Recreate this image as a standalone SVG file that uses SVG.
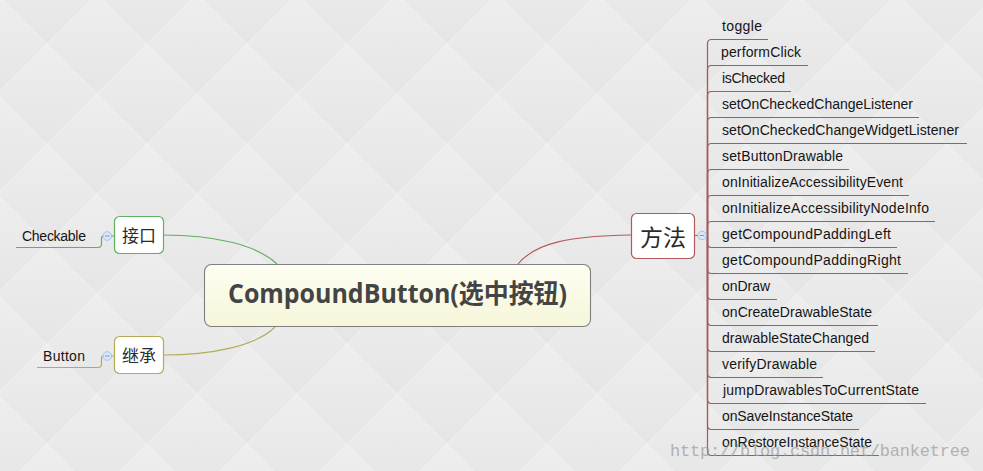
<svg xmlns="http://www.w3.org/2000/svg" width="983" height="471" viewBox="0 0 983 471">
<style>
.item{font-family:"Liberation Sans","Noto Sans CJK SC",sans-serif;font-size:14px;fill:#151515}
.ul{fill:none;stroke:#a65a5a;stroke-width:1.2}
.cjk{font-family:"Noto Sans CJK SC","Noto Sans",sans-serif;fill:#2a2a2a;text-anchor:middle}
.node{fill:#ffffff;stroke-width:1.2}
.tog circle{fill:#d8e6fb;stroke:#9db6e4;stroke-width:0.8}
.tog line{stroke:#7b98d0;stroke-width:1}
</style>
<defs>
<linearGradient id="g1" gradientUnits="userSpaceOnUse" x1="0" y1="0" x2="0" y2="100"><stop offset="0" stop-color="#eeeeee"/><stop offset="1" stop-color="#e5e5e5"/></linearGradient>
<linearGradient id="g2" gradientUnits="userSpaceOnUse" x1="0" y1="-50" x2="0" y2="50"><stop offset="0" stop-color="#eeeeee"/><stop offset="1" stop-color="#e5e5e5"/></linearGradient>
<linearGradient id="g3" gradientUnits="userSpaceOnUse" x1="0" y1="50" x2="0" y2="150"><stop offset="0" stop-color="#eeeeee"/><stop offset="1" stop-color="#e5e5e5"/></linearGradient>
<pattern id="bg" patternUnits="userSpaceOnUse" x="-3.3" y="-5.7" width="100" height="100">
<rect width="100" height="100" fill="url(#g1)"/>
<polygon points="0,0 100,0 50,50" fill="url(#g2)"/>
<polygon points="0,100 100,100 50,50" fill="url(#g3)"/>
<path d="M0,0 L100,100 M100,0 L0,100" stroke="#f7f7f7" stroke-width="1" opacity="0.7"/>
</pattern>
<linearGradient id="cfill" x1="0" y1="0" x2="0" y2="1"><stop offset="0" stop-color="#fefef2"/><stop offset="1" stop-color="#f6f6da"/></linearGradient>
</defs>
<rect width="983" height="471" fill="url(#bg)"/>

<g id="connectors">
<path d="M163,235 C212,235 256,244 277,264" fill="none" stroke="#5fb05f" stroke-width="1.1"/>
<path d="M163,355 C212,355 256,346 275,327" fill="none" stroke="#b2ab58" stroke-width="1.1"/>
<path d="M518,264 C536,242 572,236 631,235" fill="none" stroke="#b05a5a" stroke-width="1.1"/>
<path d="M16,247.5 H98 Q101.5,247.5 101.5,244 V238.5 Q101.5,236 103,236" fill="none" stroke="#5fb05f" stroke-width="1.2"/>
<path d="M37,367.5 H98 Q101.5,367.5 101.5,364 V358.5 Q101.5,356 103,356" fill="none" stroke="#b2ab58" stroke-width="1.2"/>
<line x1="111.5" y1="236" x2="114" y2="236" stroke="#5fb05f"/>
<line x1="111.5" y1="356" x2="114" y2="356" stroke="#b2ab58"/>
<line x1="695" y1="235.5" x2="698" y2="235.5" stroke="#b05a5a"/>
<path class="ul" d="M707.5,235.5 V43.5 Q707.5,39.5 711.5,39.5 H768"/>
<path class="ul" d="M707.5,235.5 V69.5 Q707.5,65.5 711.5,65.5 H808"/>
<path class="ul" d="M707.5,235.5 V95.5 Q707.5,91.5 711.5,91.5 H791"/>
<path class="ul" d="M707.5,235.5 V121.5 Q707.5,117.5 711.5,117.5 H919"/>
<path class="ul" d="M707.5,235.5 V147.5 Q707.5,143.5 711.5,143.5 H967"/>
<path class="ul" d="M707.5,235.5 V173.5 Q707.5,169.5 711.5,169.5 H849"/>
<path class="ul" d="M707.5,235.5 V199.5 Q707.5,195.5 711.5,195.5 H909"/>
<path class="ul" d="M707.5,235.5 V225.5 Q707.5,221.5 711.5,221.5 H935"/>
<path class="ul" d="M707.5,235.5 V243.5 Q707.5,247.5 711.5,247.5 H897"/>
<path class="ul" d="M707.5,235.5 V269.5 Q707.5,273.5 711.5,273.5 H908"/>
<path class="ul" d="M707.5,235.5 V295.5 Q707.5,299.5 711.5,299.5 H777"/>
<path class="ul" d="M707.5,235.5 V321.5 Q707.5,325.5 711.5,325.5 H878"/>
<path class="ul" d="M707.5,235.5 V347.5 Q707.5,351.5 711.5,351.5 H875"/>
<path class="ul" d="M707.5,235.5 V373.5 Q707.5,377.5 711.5,377.5 H823"/>
<path class="ul" d="M707.5,235.5 V399.5 Q707.5,403.5 711.5,403.5 H926"/>
<path class="ul" d="M707.5,235.5 V425.5 Q707.5,429.5 711.5,429.5 H859"/>
<path class="ul" d="M707.5,235.5 V451.5 Q707.5,455.5 711.5,455.5 H879"/>
</g>

<g id="central">
<rect x="204.5" y="264.5" width="386" height="62" rx="7" fill="url(#cfill)" stroke="#7f7f7f" stroke-width="1.1"/>
<text x="228" y="303" textLength="339" lengthAdjust="spacingAndGlyphs" font-family="'Open Sans','Noto Sans CJK SC',sans-serif" font-weight="bold" font-size="26" fill="#444444">CompoundButton(选中按钮)</text>
</g>

<g id="node-jiekou">
<rect class="node" x="114.5" y="216.5" width="49" height="37" rx="5" stroke="#5fb05f"/>
<text class="cjk" x="139" y="242" font-size="17">接口</text>
<g class="tog"><circle cx="107.3" cy="236" r="4.3"/><line x1="105" y1="236" x2="109.6" y2="236"/></g>
</g>
<g id="node-checkable">
<text class="item" x="22" y="241" textLength="64">Checkable</text>
</g>

<g id="node-jicheng">
<rect class="node" x="114.5" y="336.5" width="49" height="37" rx="5" stroke="#b2ab58"/>
<text class="cjk" x="139" y="362" font-size="17">继承</text>
<g class="tog"><circle cx="107.3" cy="356" r="4.3"/><line x1="105" y1="356" x2="109.6" y2="356"/></g>
</g>
<g id="node-button">
<text class="item" x="43" y="361" textLength="42">Button</text>
</g>

<g id="node-fangfa">
<rect class="node" x="631.5" y="213.5" width="63" height="45" rx="5" stroke="#b05a5a"/>
<text class="cjk" x="663" y="246" font-size="23">方法</text>
<g class="tog"><circle cx="702" cy="235.5" r="4.3"/><line x1="699.7" y1="235.5" x2="704.3" y2="235.5"/></g>
</g>

<g id="methods">
<g id="m1"><text class="item" x="722" y="31" textLength="40">toggle</text></g>
<g id="m2"><text class="item" x="721" y="57" textLength="80">performClick</text></g>
<g id="m3"><text class="item" x="722" y="83" textLength="63">isChecked</text></g>
<g id="m4"><text class="item" x="722" y="109" textLength="191">setOnCheckedChangeListener</text></g>
<g id="m5"><text class="item" x="722" y="135" textLength="237">setOnCheckedChangeWidgetListener</text></g>
<g id="m6"><text class="item" x="722" y="161" textLength="121">setButtonDrawable</text></g>
<g id="m7"><text class="item" x="722" y="187" textLength="181">onInitializeAccessibilityEvent</text></g>
<g id="m8"><text class="item" x="722" y="213" textLength="207">onInitializeAccessibilityNodeInfo</text></g>
<g id="m9"><text class="item" x="722" y="239" textLength="169">getCompoundPaddingLeft</text></g>
<g id="m10"><text class="item" x="722" y="265" textLength="179">getCompoundPaddingRight</text></g>
<g id="m11"><text class="item" x="722" y="291" textLength="48">onDraw</text></g>
<g id="m12"><text class="item" x="722" y="317" textLength="150">onCreateDrawableState</text></g>
<g id="m13"><text class="item" x="722" y="343" textLength="147">drawableStateChanged</text></g>
<g id="m14"><text class="item" x="722" y="369" textLength="95">verifyDrawable</text></g>
<g id="m15"><text class="item" x="723" y="395" textLength="196">jumpDrawablesToCurrentState</text></g>
<g id="m16"><text class="item" x="722" y="421" textLength="131">onSaveInstanceState</text></g>
<g id="m17"><text class="item" x="722" y="447" textLength="150">onRestoreInstanceState</text></g>
</g>

<text x="670" y="456" textLength="300" font-family="'Liberation Mono',monospace" font-size="17" fill="#9a9a9a" opacity="0.7">http://blog.csdn.net/banketree</text>
</svg>
